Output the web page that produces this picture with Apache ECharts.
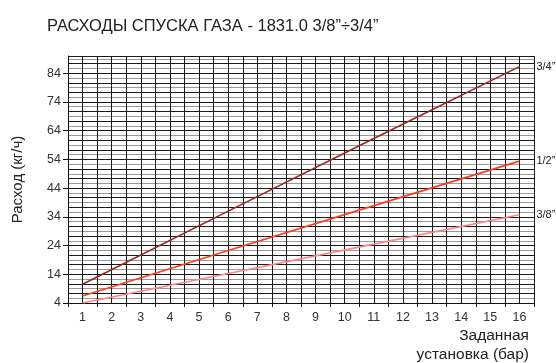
<!DOCTYPE html>
<html>
<head>
<meta charset="utf-8">
<script src="https://cdn.jsdelivr.net/npm/echarts@6/dist/echarts.min.js"></script>
<style>
  html, body { margin: 0; padding: 0; background: #fff; }
  #chart { width: 556px; height: 363px; }
</style>
</head>
<body>
<div id="chart"></div>
<script>
  // значения (давление, бар -> расход, кг/ч)
  const pressure = [1, 6, 11, 16]
  const flow34 = [10.5, 36.0, 61.3, 86.3]
  const flow12 = [6.4, 22.3, 37.9, 53.4]
  const flow38 = [4.0, 14.3, 24.5, 34.7]
  const seriesNames = ['3/4”', '1/2”', '3/8”']
  const seriesColors = ['#9a2622', '#ff3d1f', '#ff8585']
  const xLabels = [1, 2, 3, 4, 5, 6, 7, 8, 9, 10, 11, 12, 13, 14, 15, 16]
  const yLabels = [4, 14, 24, 34, 44, 54, 64, 74, 84]

  const chart = echarts.init(document.getElementById('chart'))
  const font = '"Liberation Sans", Arial, sans-serif'
  // деления оси X стоят между подписями
  const xTicks = xLabels.map(v => v - 0.5).concat([xLabels[xLabels.length - 1] + 0.5])

  const makeSeries = (name, values, color) => ({
    name: name,
    type: 'line',
    xAxisIndex: 0,
    yAxisIndex: 0,
    symbol: 'none',
    z: 5,
    lineStyle: { color: color, width: 1.6 },
    data: pressure.map((p, i) => [p, values[i]]),
    endLabel: {
      show: true,
      formatter: name,
      distance: 17,
      color: '#222',
      fontSize: 11,
      fontFamily: font
    }
  })

  // скрытая ось только для сетки
  const gridAxis = (interval, colors) => ({
    type: 'value',
    show: true,
    axisLine: { show: false },
    axisTick: { show: false },
    axisLabel: { show: false },
    interval: interval,
    splitLine: { show: true, lineStyle: { color: colors, width: 1 } }
  })

  chart.setOption({
    animation: false,
    title: {
      text: 'РАСХОДЫ СПУСКА ГАЗА - 1831.0 3/8”÷3/4”',
      left: 42,
      top: 13,
      textStyle: { fontSize: 16.5, fontWeight: 'normal', color: '#222', fontFamily: font }
    },
    grid: { left: 68, right: 22, top: 56, bottom: 60, outerBoundsMode: 'none', containLabel: false },
    xAxis: [
      {
        type: 'value',
        min: 0.5,
        max: 16.5,
        name: 'Заданная\nустановка (бар)',
        nameLocation: 'end',
        nameGap: -5,
        nameMoveOverlap: false,
        nameTextStyle: {
          align: 'right', verticalAlign: 'top', padding: [23, 0, 0, 0],
          fontSize: 15.5, lineHeight: 19, color: '#222', fontFamily: font
        },
        z: 4,
        axisLine: { lineStyle: { color: '#111', width: 1 } },
        axisTick: { customValues: xTicks, length: 4, lineStyle: { color: '#111' } },
        axisLabel: { customValues: xLabels, color: '#333', fontSize: 12.5, margin: 8, fontFamily: font },
        splitLine: { show: false }
      },
      Object.assign(gridAxis(0.5, ['#1a1a1a']), { min: 0.5, max: 16.5, position: 'bottom' })
    ],
    yAxis: [
      {
        type: 'value',
        min: 4,
        max: 90,
        name: 'Расход (кг/ч)',
        nameLocation: 'middle',
        nameGap: 43,
        nameTextStyle: { fontSize: 15, color: '#222', fontFamily: font },
        z: 4,
        axisLine: { show: true, lineStyle: { color: '#111', width: 1 } },
        axisTick: { show: true, customValues: yLabels, length: 5, lineStyle: { color: '#111' } },
        axisLabel: { customValues: yLabels, color: '#333', fontSize: 12.5, margin: 7, fontFamily: font },
        splitLine: { show: false }
      },
      Object.assign(gridAxis(10 / 6, ['#1a1a1a', '#9a9a9a']), { min: 4, max: 90, position: 'left' })
    ],
    series: [
      makeSeries(seriesNames[0], flow34, seriesColors[0]),
      makeSeries(seriesNames[1], flow12, seriesColors[1]),
      makeSeries(seriesNames[2], flow38, seriesColors[2])
    ]
  })
</script>
</body>
</html>
